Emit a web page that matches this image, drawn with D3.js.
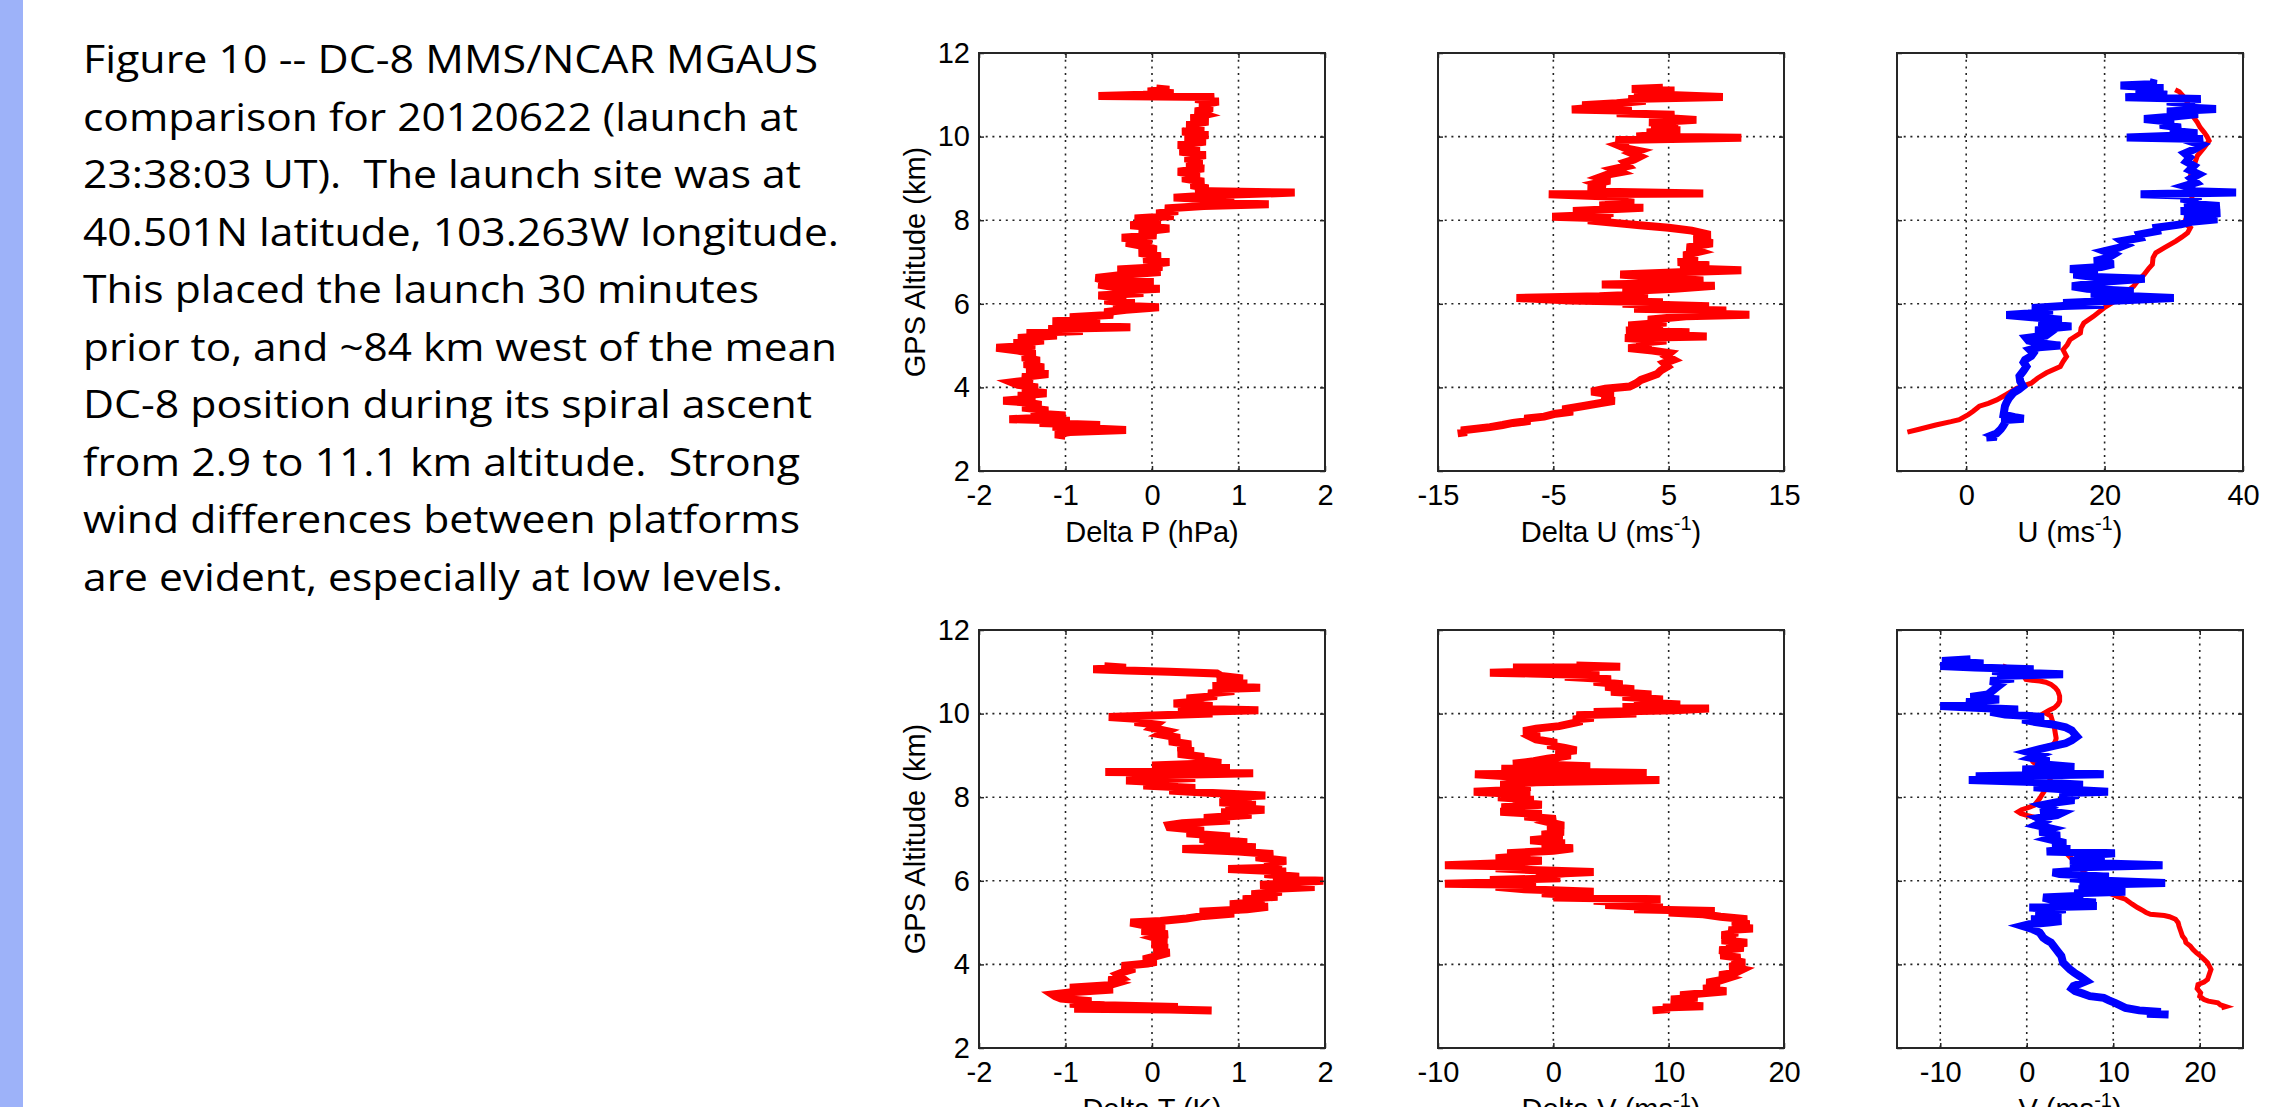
<!DOCTYPE html>
<html>
<head>
<meta charset="utf-8">
<title>Figure 10 - DC-8 MMS/NCAR MGAUS comparison</title>
<script src="https://cdn.jsdelivr.net/npm/d3@7"></script>
<style>
  html, body { margin: 0; padding: 0; background: #fff; overflow: hidden; }
  svg { display: block; }
  .axis text { font-family: "Liberation Sans", Arial, sans-serif; font-size: 29px; fill: #000; }
  .axis line { stroke: #262626; stroke-width: 1.5; }
  .axis path { display: none; }
  .lbl { font-family: "Liberation Sans", Arial, sans-serif; font-size: 29px; fill: #000; }
  .caption { font-family: "Open Sans", "Noto Sans", sans-serif; font-size: 38px; fill: #000; white-space: pre; }
</style>
</head>
<body>
<div id="chart"></div>
<script>
// caption text, one entry per printed line
var captionLines = [
  'Figure 10 -- DC-8 MMS/NCAR MGAUS',
  'comparison for 20120622 (launch at',
  '23:38:03 UT).  The launch site was at',
  '40.501N latitude, 103.263W longitude.',
  'This placed the launch 30 minutes',
  'prior to, and ~84 km west of the mean',
  'DC-8 position during its spiral ascent',
  'from 2.9 to 11.1 km altitude.  Strong',
  'wind differences between platforms',
  'are evident, especially at low levels.'
];

// tick values
var altTicks = [2, 4, 6, 8, 10, 12];
var dpTicks = [-2, -1, 0, 1, 2];
var duTicks = [-15, -5, 5, 15];
var uTicks = [0, 20, 40];
var dtTicks = [-2, -1, 0, 1, 2];
var dvTicks = [-10, 0, 10, 20];
var vTicks = [-10, 0, 10, 20];

// profiles as [altitude km, value]
var deltaP = [[2.84,-1.0],[2.88,-1.12],[2.93,-0.95],[2.98,-0.3],[3.02,-0.75],[3.06,-1.15],[3.1,-0.6],[3.15,-1.3],[3.2,-0.95],[3.24,-1.65],[3.28,-1.2],[3.33,-1.0],[3.38,-1.4],[3.45,-1.2],[3.52,-1.5],[3.58,-1.28],[3.64,-1.45],[3.68,-1.72],[3.74,-1.35],[3.8,-1.55],[3.86,-1.22],[3.93,-1.5],[4.0,-1.32],[4.06,-1.55],[4.12,-1.62],[4.18,-1.38],[4.25,-1.5],[4.32,-1.2],[4.4,-1.45],[4.48,-1.25],[4.56,-1.48],[4.64,-1.3],[4.72,-1.5],[4.8,-1.35],[4.88,-1.55],[4.95,-1.8],[5.0,-1.35],[5.06,-1.6],[5.12,-1.25],[5.18,-1.55],[5.24,-1.1],[5.3,-1.45],[5.35,-0.8],[5.4,-1.2],[5.44,-0.25],[5.47,-0.9],[5.52,-0.7],[5.58,-1.15],[5.63,-0.6],[5.68,-0.95],[5.74,-0.45],[5.8,-0.55],[5.86,-0.3],[5.92,0.08],[5.96,-0.45],[6.02,-0.2],[6.08,-0.55],[6.14,-0.3],[6.2,-0.62],[6.26,-0.1],[6.3,-0.5],[6.36,0.09],[6.4,-0.45],[6.46,-0.62],[6.52,0.02],[6.56,-0.55],[6.62,-0.65],[6.7,-0.3],[6.76,0.1],[6.82,-0.4],[6.88,0.12],[6.94,-0.05],[7.0,0.2],[7.06,-0.1],[7.14,0.1],[7.22,-0.15],[7.3,0.05],[7.38,-0.1],[7.46,-0.3],[7.52,0.0],[7.58,-0.35],[7.64,0.05],[7.72,-0.15],[7.8,0.2],[7.88,-0.25],[7.96,0.1],[8.04,-0.2],[8.1,0.25],[8.16,0.05],[8.22,0.3],[8.28,0.15],[8.34,0.6],[8.38,1.35],[8.42,0.5],[8.48,0.95],[8.54,0.25],[8.6,0.75],[8.66,1.65],[8.7,0.5],[8.76,0.65],[8.84,0.45],[8.92,0.6],[9.0,0.35],[9.08,0.55],[9.16,0.3],[9.24,0.6],[9.32,0.4],[9.4,0.58],[9.48,0.38],[9.56,0.62],[9.64,0.32],[9.72,0.55],[9.8,0.3],[9.88,0.62],[9.96,0.38],[10.04,0.65],[10.12,0.35],[10.2,0.6],[10.28,0.4],[10.36,0.65],[10.44,0.45],[10.52,0.62],[10.6,0.5],[10.68,0.7],[10.76,0.55],[10.84,0.77],[10.9,0.5],[10.95,0.72],[10.97,-0.62],[11.0,-0.1],[11.04,0.25],[11.08,-0.05],[11.12,0.2],[11.15,0.05]];

var deltaU = [[2.9,-13.3],[2.93,-12.5],[2.97,-13.0],[3.05,-10.5],[3.1,-9.4],[3.15,-8.5],[3.2,-7.0],[3.25,-7.5],[3.3,-5.8],[3.37,-4.8],[3.42,-3.3],[3.47,-4.2],[3.55,-2.5],[3.62,-1.0],[3.68,0.3],[3.75,-0.8],[3.8,0.2],[3.86,-0.7],[3.9,-1.7],[3.97,-0.5],[4.02,1.6],[4.1,2.2],[4.18,2.6],[4.25,3.3],[4.32,4.0],[4.4,4.3],[4.5,4.9],[4.58,4.6],[4.66,5.4],[4.75,4.8],[4.82,5.1],[4.88,3.6],[4.94,1.5],[5.0,3.5],[5.06,2.2],[5.12,4.8],[5.18,1.2],[5.22,8.3],[5.27,3.0],[5.32,6.8],[5.36,1.3],[5.42,4.5],[5.48,1.5],[5.55,4.8],[5.62,3.2],[5.7,6.5],[5.74,12.0],[5.78,6.0],[5.84,10.0],[5.88,2.0],[5.94,8.5],[6.0,1.0],[6.04,4.5],[6.08,-3.5],[6.14,-8.2],[6.18,-1.0],[6.23,3.2],[6.3,1.0],[6.36,5.5],[6.43,9.0],[6.46,-0.8],[6.5,6.0],[6.56,8.0],[6.62,4.5],[6.7,0.8],[6.76,6.5],[6.8,11.3],[6.85,6.0],[6.92,8.5],[7.0,5.8],[7.08,7.5],[7.16,6.3],[7.25,7.7],[7.35,6.6],[7.45,8.8],[7.55,7.2],[7.65,8.6],[7.75,7.0],[7.82,5.0],[7.88,2.5],[7.93,0.5],[8.0,-2.0],[8.04,0.0],[8.08,-5.1],[8.12,-2.0],[8.17,0.2],[8.22,-3.3],[8.3,2.8],[8.35,-1.0],[8.42,2.0],[8.5,-0.5],[8.55,1.5],[8.62,-5.4],[8.64,8.0],[8.68,-0.5],[8.75,-2.0],[8.8,-0.5],[8.88,-1.3],[8.95,-0.1],[9.02,-1.0],[9.1,-0.2],[9.15,0.8],[9.22,0.2],[9.3,1.5],[9.38,1.2],[9.45,2.0],[9.52,2.5],[9.6,1.8],[9.66,2.4],[9.72,1.3],[9.8,0.6],[9.86,1.5],[9.92,0.4],[9.97,11.3],[10.0,2.2],[10.05,4.5],[10.1,3.1],[10.15,6.0],[10.2,3.5],[10.28,5.8],[10.34,3.3],[10.4,7.4],[10.46,4.0],[10.52,5.5],[10.56,0.5],[10.62,1.8],[10.65,-3.4],[10.7,-1.0],[10.75,-2.5],[10.8,0.5],[10.86,3.0],[10.9,1.5],[10.95,9.7],[11.0,4.5],[11.05,2.0],[11.1,5.5],[11.14,1.8],[11.17,4.5]];

var uSonde = [[2.93,-8.5],[3.0,-6.8],[3.1,-4.4],[3.18,-2.2],[3.23,-1.0],[3.35,0.3],[3.43,1.0],[3.55,1.9],[3.62,3.2],[3.7,4.4],[3.83,5.8],[3.98,7.3],[4.1,9.4],[4.22,10.3],[4.35,11.6],[4.5,13.6],[4.62,14.0],[4.74,14.5],[4.9,14.0],[5.02,14.6],[5.14,15.0],[5.3,16.5],[5.42,16.6],[5.54,17.0],[5.7,18.4],[5.9,19.9],[6.1,21.8],[6.25,22.9],[6.42,24.2],[6.55,24.8],[6.7,25.7],[6.85,26.4],[6.94,26.9],[7.1,27.0],[7.22,27.4],[7.34,28.6],[7.5,30.3],[7.6,31.2],[7.7,32.0],[7.82,32.4],[7.94,31.5],[8.05,31.8],[8.18,32.0],[8.4,32.5],[8.66,32.7],[8.85,32.5],[9.06,32.4],[9.3,32.9],[9.54,33.4],[9.74,34.4],[9.9,35.1],[10.0,34.8],[10.1,34.4],[10.22,33.8],[10.34,33.4],[10.5,32.7],[10.62,32.5],[10.73,32.2],[10.9,31.7],[11.0,31.2],[11.07,30.8],[11.12,30.2]];

var uAircraft = [[2.8,2.9],[2.82,4.4],[2.86,3.8],[2.9,4.4],[3.0,5.0],[3.07,5.3],[3.15,5.6],[3.22,5.6],[3.25,8.3],[3.29,7.0],[3.35,5.4],[3.45,5.5],[3.55,5.6],[3.63,5.8],[3.75,6.2],[3.87,6.8],[3.95,7.6],[4.03,8.2],[4.15,7.8],[4.27,7.7],[4.4,8.3],[4.5,8.7],[4.6,8.3],[4.66,8.5],[4.75,9.4],[4.82,9.7],[4.9,9.2],[4.96,10.5],[5.0,13.6],[5.05,11.0],[5.12,9.0],[5.18,8.7],[5.24,11.5],[5.3,12.0],[5.36,10.0],[5.42,12.5],[5.46,15.2],[5.5,12.0],[5.56,10.5],[5.62,13.8],[5.68,9.5],[5.73,5.8],[5.77,9.0],[5.84,12.5],[5.9,9.5],[5.95,14.0],[5.98,19.9],[6.02,14.0],[6.08,22.0],[6.14,30.0],[6.18,24.0],[6.24,18.0],[6.3,24.2],[6.36,17.5],[6.42,15.3],[6.48,18.0],[6.54,20.8],[6.6,25.8],[6.64,18.5],[6.7,15.5],[6.76,19.0],[6.83,15.0],[6.88,19.5],[6.95,21.3],[7.02,18.5],[7.1,20.5],[7.18,21.3],[7.26,20.0],[7.34,22.0],[7.42,23.2],[7.5,22.5],[7.58,25.2],[7.66,25.0],[7.74,27.6],[7.82,27.5],[7.9,31.0],[7.96,32.5],[8.02,36.3],[8.06,31.5],[8.12,34.5],[8.17,36.7],[8.22,31.0],[8.28,35.0],[8.34,36.6],[8.4,31.5],[8.46,33.5],[8.52,31.0],[8.58,34.0],[8.62,25.2],[8.66,39.0],[8.7,31.5],[8.76,33.0],[8.82,31.6],[8.9,33.2],[9.0,32.5],[9.1,33.6],[9.2,32.3],[9.3,32.9],[9.4,31.8],[9.5,32.3],[9.6,31.6],[9.7,33.0],[9.8,34.0],[9.88,32.5],[9.94,34.2],[9.98,23.2],[10.02,30.0],[10.08,33.4],[10.14,29.5],[10.22,31.0],[10.28,28.0],[10.35,30.0],[10.42,25.7],[10.48,30.0],[10.54,33.5],[10.6,29.0],[10.66,36.1],[10.7,31.0],[10.78,33.0],[10.84,29.0],[10.9,33.9],[10.94,23.0],[11.0,29.0],[11.06,27.0],[11.1,24.5],[11.16,28.5],[11.22,22.3],[11.26,27.5],[11.3,26.5]];

var deltaT = [[2.9,0.69],[2.92,0.2],[2.94,-0.9],[2.98,0.3],[3.02,-0.55],[3.06,-0.95],[3.12,-0.7],[3.18,-1.05],[3.24,-1.12],[3.28,-1.15],[3.34,-0.9],[3.4,-0.45],[3.44,-0.95],[3.5,-0.5],[3.56,-0.4],[3.62,-0.5],[3.68,-0.35],[3.76,-0.4],[3.84,-0.3],[3.9,-0.2],[3.96,-0.35],[4.02,-0.05],[4.06,0.05],[4.12,-0.1],[4.2,0.05],[4.28,0.2],[4.34,0.02],[4.4,0.18],[4.48,0.0],[4.56,0.17],[4.64,0.03],[4.72,0.18],[4.8,-0.12],[4.86,0.15],[4.92,-0.05],[5.0,-0.25],[5.04,0.1],[5.1,0.4],[5.16,0.6],[5.22,0.95],[5.26,0.55],[5.32,1.1],[5.38,1.34],[5.44,0.9],[5.5,1.3],[5.56,1.05],[5.62,1.45],[5.68,1.15],[5.74,1.5],[5.8,1.3],[5.85,1.88],[5.9,1.25],[5.96,1.6],[6.0,1.98],[6.04,1.4],[6.1,1.7],[6.16,1.3],[6.22,1.55],[6.28,0.88],[6.32,1.5],[6.4,1.3],[6.48,1.55],[6.56,1.2],[6.64,1.4],[6.7,1.0],[6.76,0.35],[6.8,1.2],[6.86,0.6],[6.92,1.1],[7.0,0.55],[7.06,0.9],[7.14,0.4],[7.2,0.6],[7.28,0.2],[7.33,0.19],[7.38,0.35],[7.44,0.9],[7.5,0.6],[7.58,1.15],[7.64,0.8],[7.7,1.3],[7.76,0.85],[7.82,1.2],[7.88,0.78],[7.94,1.15],[8.0,0.8],[8.04,1.31],[8.1,0.7],[8.16,0.2],[8.22,0.5],[8.28,-0.1],[8.34,0.3],[8.4,-0.3],[8.46,0.5],[8.52,-0.1],[8.57,1.17],[8.6,-0.54],[8.64,0.3],[8.7,0.9],[8.76,0.0],[8.82,0.8],[8.9,0.5],[8.96,0.6],[9.04,0.3],[9.1,0.48],[9.18,0.3],[9.26,0.45],[9.34,0.2],[9.42,0.32],[9.5,0.1],[9.58,0.18],[9.66,0.0],[9.74,0.05],[9.8,-0.2],[9.86,-0.05],[9.92,-0.5],[9.96,0.1],[10.0,0.7],[10.04,0.45],[10.08,1.23],[10.12,0.3],[10.18,0.7],[10.24,0.25],[10.3,0.6],[10.36,0.4],[10.42,0.75],[10.48,0.65],[10.54,0.95],[10.58,0.7],[10.62,1.25],[10.66,0.7],[10.72,1.1],[10.78,0.75],[10.84,1.05],[10.9,0.8],[10.96,0.75],[11.0,0.2],[11.03,-0.3],[11.06,-0.68],[11.1,-0.3],[11.13,-0.55]];

var deltaV = [[2.9,8.6],[2.93,10.1],[2.97,9.5],[3.0,13.0],[3.04,10.5],[3.1,11.5],[3.16,10.2],[3.2,12.5],[3.26,11.0],[3.32,13.5],[3.36,15.0],[3.42,13.0],[3.48,14.4],[3.56,13.3],[3.62,14.5],[3.68,15.2],[3.74,14.4],[3.8,15.8],[3.88,16.4],[3.94,15.3],[4.0,16.0],[4.04,16.6],[4.1,15.5],[4.16,16.2],[4.22,14.5],[4.28,15.5],[4.34,14.4],[4.4,16.5],[4.46,15.0],[4.52,16.8],[4.58,14.6],[4.64,15.8],[4.7,14.6],[4.76,16.0],[4.82,15.2],[4.86,17.3],[4.9,15.5],[4.96,17.0],[5.02,15.5],[5.08,16.8],[5.14,14.5],[5.2,13.0],[5.24,10.0],[5.28,14.0],[5.32,7.0],[5.36,9.5],[5.42,4.5],[5.46,8.6],[5.52,3.5],[5.56,9.3],[5.6,0.0],[5.64,3.0],[5.7,-1.0],[5.74,3.5],[5.8,-2.5],[5.86,-5.0],[5.9,-1.5],[5.93,-9.4],[5.97,-3.0],[6.02,-5.5],[6.06,0.6],[6.12,-1.5],[6.18,1.0],[6.21,3.5],[6.26,-2.0],[6.3,-5.0],[6.34,-2.5],[6.37,-9.4],[6.42,-4.5],[6.48,-1.0],[6.54,-5.0],[6.6,-2.0],[6.66,-4.0],[6.72,0.0],[6.78,1.7],[6.84,-1.0],[6.9,1.0],[6.97,-2.0],[7.04,0.8],[7.1,-1.0],[7.17,0.9],[7.24,-0.5],[7.32,0.9],[7.41,-0.5],[7.48,0.2],[7.54,-2.5],[7.6,-1.0],[7.65,-4.6],[7.7,-2.0],[7.76,-4.5],[7.82,-1.0],[7.88,-3.5],[7.94,-1.7],[8.0,-4.8],[8.06,-2.0],[8.13,-6.9],[8.18,-3.0],[8.24,-2.0],[8.3,-4.6],[8.36,-1.5],[8.41,9.2],[8.45,1.5],[8.5,-4.0],[8.55,-6.8],[8.58,8.1],[8.62,-2.0],[8.68,-4.5],[8.74,3.2],[8.8,-3.5],[8.86,-1.7],[8.92,-0.5],[9.0,1.5],[9.06,0.2],[9.12,2.0],[9.18,1.0],[9.25,-0.5],[9.3,0.3],[9.38,-1.5],[9.45,-2.0],[9.52,-1.2],[9.58,-2.6],[9.64,-1.5],[9.7,0.5],[9.76,1.5],[9.82,2.5],[9.86,1.7],[9.9,3.5],[9.96,2.0],[10.0,7.2],[10.04,3.5],[10.08,10.5],[10.12,13.5],[10.16,6.0],[10.22,11.0],[10.28,7.0],[10.34,9.5],[10.4,6.0],[10.46,8.5],[10.52,5.0],[10.58,7.0],[10.64,4.5],[10.7,6.0],[10.76,3.5],[10.82,5.0],[10.88,1.0],[10.92,4.0],[10.96,-2.0],[10.98,-5.5],[11.02,0.0],[11.06,3.0],[11.1,-3.5],[11.12,5.8],[11.15,2.0]];

var vSonde = [[2.96,22.5],[2.99,23.0],[3.03,22.4],[3.08,22.1],[3.12,21.0],[3.16,20.5],[3.24,20.0],[3.32,20.1],[3.42,19.7],[3.52,19.8],[3.58,20.5],[3.64,20.9],[3.76,21.1],[3.88,21.3],[3.96,21.1],[4.04,20.9],[4.12,20.5],[4.2,20.1],[4.28,19.6],[4.36,19.2],[4.44,18.9],[4.52,18.4],[4.6,18.3],[4.68,18.0],[4.8,17.8],[4.92,17.6],[5.0,17.5],[5.08,17.2],[5.14,16.5],[5.17,15.9],[5.2,14.3],[5.24,13.8],[5.28,13.5],[5.36,12.8],[5.44,12.2],[5.5,11.8],[5.56,11.4],[5.62,10.5],[5.65,10.2],[5.72,9.3],[5.78,8.6],[5.85,8.1],[5.92,7.6],[5.97,7.3],[6.05,7.1],[6.13,6.9],[6.21,6.6],[6.29,6.3],[6.37,5.9],[6.45,5.6],[6.53,5.2],[6.61,4.8],[6.69,4.4],[6.77,4.0],[6.89,3.6],[7.01,3.2],[7.13,2.8],[7.25,2.3],[7.35,2.0],[7.45,1.7],[7.5,1.2],[7.53,0.7],[7.57,-0.1],[7.61,-0.7],[7.65,-1.0],[7.7,-0.6],[7.73,-0.1],[7.77,0.4],[7.81,0.9],[7.89,1.2],[7.97,1.5],[8.07,1.8],[8.17,2.1],[8.27,2.5],[8.37,2.8],[8.47,2.6],[8.57,2.3],[8.65,1.9],[8.73,1.5],[8.8,1.0],[8.85,0.7],[8.93,0.5],[9.01,0.5],[9.09,0.9],[9.17,1.5],[9.21,2.3],[9.25,3.0],[9.33,3.3],[9.41,3.4],[9.53,3.3],[9.66,3.2],[9.8,3.0],[9.94,2.8],[10.02,2.1],[10.08,2.6],[10.14,3.2],[10.22,3.6],[10.3,3.8],[10.42,3.8],[10.54,3.6],[10.62,3.3],[10.7,2.8],[10.75,2.2],[10.78,1.5],[10.8,0.6],[10.82,-0.1],[10.88,-0.3],[10.94,-0.5],[11.0,-1.2],[11.06,-1.8],[11.1,-2.3],[11.14,-2.8]];

var vAircraft = [[2.8,16.4],[2.82,13.9],[2.86,15.5],[2.9,13.0],[2.96,11.4],[3.02,10.8],[3.08,10.2],[3.14,9.5],[3.2,8.9],[3.24,7.3],[3.3,6.5],[3.36,5.6],[3.42,5.2],[3.48,5.4],[3.54,6.2],[3.6,6.9],[3.66,6.5],[3.72,6.1],[3.8,5.5],[3.88,5.0],[3.96,4.6],[4.04,4.2],[4.12,4.1],[4.2,4.0],[4.28,3.7],[4.36,3.4],[4.44,3.1],[4.52,2.8],[4.58,2.3],[4.64,1.9],[4.7,1.7],[4.76,1.5],[4.84,0.7],[4.92,-0.5],[4.96,0.3],[5.0,2.5],[5.04,4.0],[5.08,0.5],[5.12,3.5],[5.16,1.0],[5.2,4.0],[5.26,1.5],[5.32,4.5],[5.36,0.3],[5.4,8.1],[5.44,3.5],[5.48,8.0],[5.54,3.0],[5.6,1.9],[5.64,6.5],[5.7,5.5],[5.74,11.4],[5.8,6.0],[5.86,10.0],[5.9,6.1],[5.95,16.0],[6.0,9.0],[6.06,5.0],[6.1,9.5],[6.16,3.8],[6.2,3.0],[6.26,7.0],[6.32,5.0],[6.37,15.7],[6.42,8.0],[6.48,5.0],[6.54,9.0],[6.6,5.5],[6.66,10.2],[6.7,2.3],[6.76,5.0],[6.82,3.0],[6.9,4.5],[7.0,2.5],[7.08,3.8],[7.17,1.5],[7.25,2.8],[7.33,1.1],[7.42,2.0],[7.5,1.3],[7.57,3.5],[7.62,4.0],[7.68,1.6],[7.75,2.5],[7.81,1.8],[7.88,3.5],[7.93,5.5],[8.0,3.8],[8.05,6.0],[8.1,4.5],[8.13,9.4],[8.18,5.0],[8.24,0.8],[8.3,6.5],[8.36,1.5],[8.41,-6.7],[8.45,0.7],[8.5,-5.9],[8.55,8.9],[8.6,2.0],[8.66,-0.5],[8.72,5.5],[8.8,1.0],[8.86,2.6],[8.94,0.6],[9.01,1.5],[9.08,0.2],[9.15,1.5],[9.22,3.0],[9.29,4.5],[9.36,5.2],[9.45,5.8],[9.52,5.5],[9.6,5.2],[9.67,4.5],[9.74,3.0],[9.8,1.0],[9.86,-0.5],[9.92,2.0],[9.98,-2.5],[10.04,-4.2],[10.1,-1.0],[10.14,-6.0],[10.18,-10.0],[10.22,-5.5],[10.28,-7.0],[10.34,-3.2],[10.4,-6.5],[10.46,-4.5],[10.54,-4.0],[10.62,-3.5],[10.7,-3.0],[10.78,-4.2],[10.84,-1.5],[10.9,-3.4],[10.94,4.2],[10.98,-1.0],[11.02,-4.0],[11.06,0.8],[11.1,-6.0],[11.14,-10.0],[11.2,-5.0],[11.26,-9.8],[11.3,-6.5]];

(function(){
    var W = 2277, H = 1107;
    var RED = '#ff0000', BLUE = '#0000ff';

    // layout of the six boxes (pixels)
    var colLeft = [979, 1438, 1897];
    var rowTop = [53, 630];
    var plotW = 346, plotH = 418;

    // right edge of each caption line, so the paragraph keeps its ragged shape
    var captionRight = [818, 798, 801, 839, 759, 837, 812, 800, 800, 783];

    var panels = [
        { row: 0, col: 0, dom: [-2, 2],   ticks: dpTicks, label: ['Delta P (hPa)'], series: [{ d: deltaP, c: RED, w: 8 }] },
        { row: 0, col: 1, dom: [-15, 15], ticks: duTicks, label: ['Delta U (ms', '-1', ')'], series: [{ d: deltaU, c: RED, w: 8 }] },
        { row: 0, col: 2, dom: [-10, 40], ticks: uTicks,  label: ['U (ms', '-1', ')'], series: [{ d: uSonde, c: RED, w: 5 }, { d: uAircraft, c: BLUE, w: 8 }] },
        { row: 1, col: 0, dom: [-2, 2],   ticks: dtTicks, label: ['Delta T (K)'], series: [{ d: deltaT, c: RED, w: 8 }] },
        { row: 1, col: 1, dom: [-10, 20], ticks: dvTicks, label: ['Delta V (ms', '-1', ')'], series: [{ d: deltaV, c: RED, w: 8 }] },
        { row: 1, col: 2, dom: [-15, 25], ticks: vTicks,  label: ['V (ms', '-1', ')'], series: [{ d: vSonde, c: RED, w: 5 }, { d: vAircraft, c: BLUE, w: 8 }] }
    ];

    // plain hyphen for negatives, like the original figure
    function plainNum(d) { return String(d); }

    var svg = d3.select('#chart')
        .append('svg')
        .attr('width', W)
        .attr('height', H);

    svg.append('rect').attr('width', W).attr('height', H).attr('fill', '#fff');

    // slide edge strip
    svg.append('rect')
        .attr('x', 0).attr('y', 0)
        .attr('width', 23).attr('height', H)
        .attr('fill', '#9db2f9');

    // caption paragraph
    captionLines.forEach(function(line, i){
        svg.append('text')
            .attr('class', 'caption')
            .attr('x', 83)
            .attr('y', 73 + i * 57.5)
            .attr('textLength', captionRight[i] - 83)
            .attr('lengthAdjust', 'spacingAndGlyphs')
            .text(line);
    });

    var defs = svg.append('defs');

    panels.forEach(function(p, i){
        var g = svg.append('g')
            .attr('transform', 'translate(' + colLeft[p.col] + ',' + rowTop[p.row] + ')');

        var x = d3.scaleLinear().domain(p.dom).range([0, plotW]);
        var y = d3.scaleLinear().domain([2, 12]).range([plotH, 0]);

        defs.append('clipPath').attr('id', 'clip' + i)
            .append('rect').attr('width', plotW).attr('height', plotH);

        // dotted grid on the inner ticks only
        var xGrid = p.ticks.filter(function(v){ return v > p.dom[0] && v < p.dom[1]; });
        var yGrid = altTicks.filter(function(v){ return v > 2 && v < 12; });
        g.selectAll('.gx').data(xGrid).enter().append('line')
            .attr('x1', x).attr('x2', x)
            .attr('y1', 0).attr('y2', plotH)
            .attr('stroke', '#222').attr('stroke-width', 1.6)
            .attr('stroke-dasharray', '2,4.7');
        g.selectAll('.gy').data(yGrid).enter().append('line')
            .attr('x1', 0).attr('x2', plotW)
            .attr('y1', y).attr('y2', y)
            .attr('stroke', '#222').attr('stroke-width', 1.6)
            .attr('stroke-dasharray', '2,4.7');

        // profiles (sonde first, aircraft drawn over it)
        var line = d3.line()
            .x(function(d){ return x(d[1]); })
            .y(function(d){ return y(d[0]); });
        var plotArea = g.append('g').attr('clip-path', 'url(#clip' + i + ')');
        p.series.forEach(function(s){
            plotArea.append('path')
                .datum(s.d)
                .attr('fill', 'none')
                .attr('stroke', s.c)
                .attr('stroke-width', s.w)
                .attr('stroke-linejoin', 'miter')
                .attr('d', line);
        });

        // inward ticks on all four sides, labels bottom (and left on first column)
        g.append('g').attr('class', 'axis')
            .attr('transform', 'translate(0,' + plotH + ')')
            .call(d3.axisBottom(x).tickValues(p.ticks).tickSizeInner(-5).tickSizeOuter(0).tickPadding(13)
                .tickFormat(plainNum));
        g.append('g').attr('class', 'axis')
            .call(d3.axisTop(x).tickValues(p.ticks).tickSizeInner(-5).tickSizeOuter(0).tickFormat(''));
        g.append('g').attr('class', 'axis')
            .call(d3.axisLeft(y).tickValues(altTicks).tickSizeInner(-5).tickSizeOuter(0).tickPadding(9)
                .tickFormat(p.col === 0 ? plainNum : ''));
        g.append('g').attr('class', 'axis')
            .attr('transform', 'translate(' + plotW + ',0)')
            .call(d3.axisRight(y).tickValues(altTicks).tickSizeInner(-5).tickSizeOuter(0).tickFormat(''));

        // box
        g.append('rect')
            .attr('width', plotW).attr('height', plotH)
            .attr('fill', 'none')
            .attr('stroke', '#262626').attr('stroke-width', 2);

        // x label with optional superscript
        var t = g.append('text')
            .attr('class', 'lbl')
            .attr('x', plotW / 2)
            .attr('y', plotH + 71)
            .attr('text-anchor', 'middle');
        t.append('tspan').text(p.label[0]);
        if (p.label.length > 1) {
            t.append('tspan').attr('dy', -12).style('font-size', '20px').text(p.label[1]);
            t.append('tspan').attr('dy', 12).text(p.label[2]);
        }

        if (p.col === 0) {
            g.append('text')
                .attr('class', 'lbl')
                .attr('transform', 'translate(-54,' + (plotH / 2) + ') rotate(-90)')
                .attr('text-anchor', 'middle')
                .text('GPS Altitude (km)');
        }
    });
})();
</script>
</body>
</html>
